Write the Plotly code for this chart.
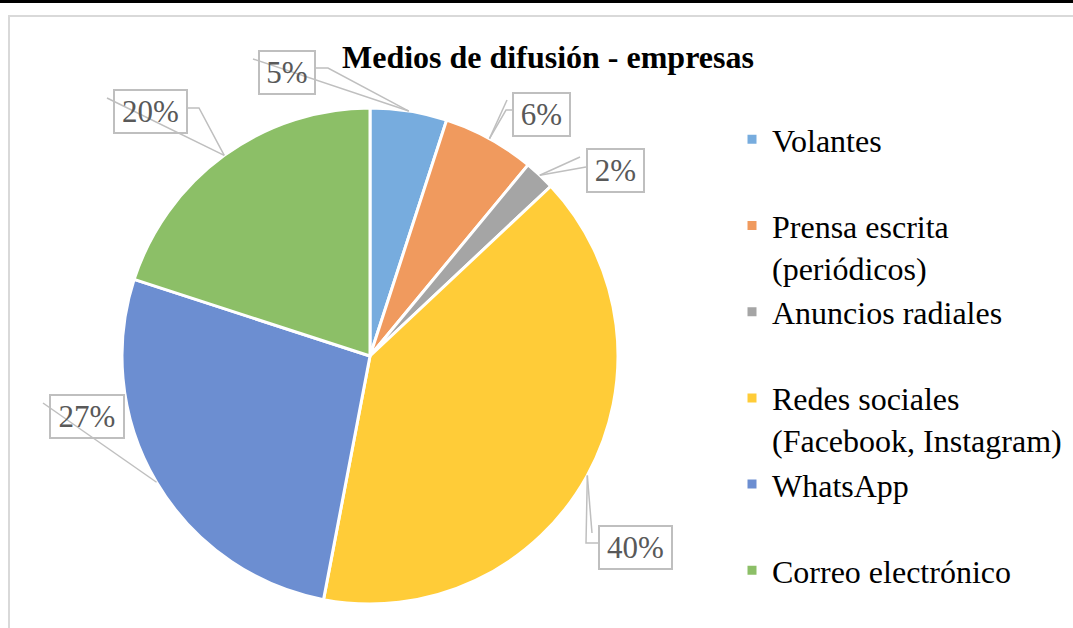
import math
import plotly.graph_objects as go

# ---- data ----
categories = ["Volantes", "Prensa escrita (periódicos)", "Anuncios radiales",
              "Redes sociales (Facebook, Instagram)", "WhatsApp", "Correo electrónico"]
legend_labels = ["Volantes<br> ", "Prensa escrita<br>(periódicos)", "Anuncios radiales<br> ",
                 "Redes sociales<br>(Facebook, Instagram)", "WhatsApp<br> ", "Correo electrónico"]
values = [5, 6, 2, 40, 27, 20]
colors = ["#77ACDE", "#F09A5E", "#A5A5A5", "#FFCC38", "#6C8ED1", "#8CBF67"]
title_text = "Medios de difusión - empresas"

# ---- layout constants (pixels) ----
W, H = 1073, 628
CX, CY, R = 370, 356, 248
SERIF = "Liberation Serif, Times New Roman, serif"

def px(x):
    return x / W

def py(y):
    return 1 - y / H

# label box centres / widths and leader-line start points (pixels)
label_boxes = [
    dict(c=(287, 72.5), w=58, lines=[[(316, 68), (328, 68)], [(253, 59)]]),
    dict(c=(541.5, 114.5), w=59, lines=[[(512, 110), (506, 110)], [(507, 100)]]),
    dict(c=(615.5, 170.5), w=59, lines=[[(586, 167)], [(580, 157)]]),
    dict(c=(635.5, 547), w=75, lines=[[(598, 543), (586, 543)], [(592, 533)]]),
    dict(c=(87, 416.5), w=76, lines=[[(43, 403)]]),
    dict(c=(150.5, 112), w=75, lines=[[(188, 108), (199, 108)], [(107, 98)]]),
]

fig = go.Figure()
fig.add_trace(go.Pie(
    labels=legend_labels,
    values=values,
    sort=False,
    direction="clockwise",
    rotation=0,
    textinfo="none",
    hoverinfo="label+percent",
    marker=dict(colors=colors, line=dict(color="white", width=3)),
    domain=dict(x=[px(CX - R), px(CX + R)], y=[py(CY + R), py(CY - R)]),
))

total = sum(values)
shapes = []
annotations = []
cum = 0
for v, box in zip(values, label_boxes):
    mid = (cum + v / 2) / total * 2 * math.pi
    cum += v
    ax = CX + R * math.sin(mid)
    ay = CY - R * math.cos(mid)
    for pts in box["lines"]:
        path_pts = pts + [(ax, ay)]
        d = "M " + " L ".join(f"{px(x):.5f},{py(y):.5f}" for x, y in path_pts)
        shapes.append(dict(type="path", xref="paper", yref="paper", path=d,
                           line=dict(color="#BFBFBF", width=1.5), layer="above"))
    annotations.append(dict(
        x=px(box["c"][0]), y=py(box["c"][1]), xref="paper", yref="paper",
        text=f"{round(v / total * 100)}%", showarrow=False,
        font=dict(family=SERIF, size=31, color="#595959"),
        width=box["w"] - 4, height=41, borderpad=0,
        bordercolor="#BFBFBF", borderwidth=2, bgcolor="rgba(0,0,0,0)",
        xanchor="center", yanchor="middle", align="center", valign="middle",
    ))

# frame lines
shapes.append(dict(type="line", xref="paper", yref="paper", x0=0, x1=1,
                   y0=py(1.5), y1=py(1.5), line=dict(color="black", width=3)))
shapes.append(dict(type="rect", xref="paper", yref="paper", x0=px(9), x1=1.02,
                   y0=-0.02, y1=py(16), line=dict(color="#D9D9D9", width=2)))

annotations.append(dict(
    x=px(548), y=py(57), xref="paper", yref="paper",
    text=f"<b>{title_text}</b>", showarrow=False,
    font=dict(family=SERIF, size=32, color="black"),
    xanchor="center", yanchor="middle",
))

fig.update_layout(
    width=W, height=H, autosize=False,
    margin=dict(l=0, r=0, t=0, b=0),
    paper_bgcolor="white", plot_bgcolor="white",
    showlegend=True,
    legend=dict(
        x=px(732), y=py(112), xanchor="left", yanchor="top",
        font=dict(family=SERIF, size=32, color="black"),
        valign="top", bgcolor="rgba(0,0,0,0)", itemclick=False,
    ),
    shapes=shapes,
    annotations=annotations,
)

fig.write_html(
    "out.html",
    config={"responsive": False, "displayModeBar": False},
    post_script=(
        "document.body.style.margin='0px';"
        "var gd=document.getElementById('{plot_id}');"
        "gd.style.position='absolute';gd.style.left='0px';gd.style.top='0px';"
    ),
)
